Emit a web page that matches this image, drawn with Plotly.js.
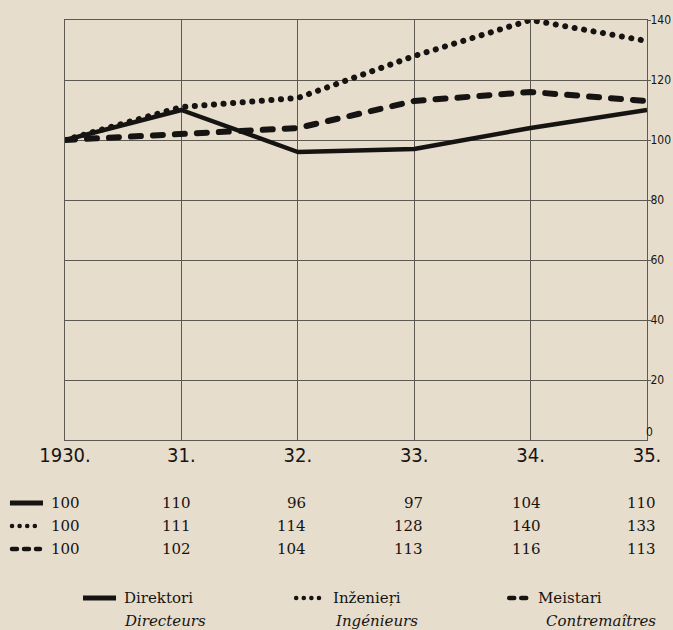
<!DOCTYPE html>
<html><head><meta charset="utf-8">
<script src="https://cdn.plot.ly/plotly-3.0.1.min.js"></script>
<style>html,body{margin:0;padding:0;background:#e6ddcc;}</style>
</head><body><div id="chart" style="width:673px;height:630px;"></div>
<script>
// ---- data ----
const years = [1930, 1931, 1932, 1933, 1934, 1935];
const yearLabels = ['1930.', '31.', '32.', '33.', '34.', '35.'];
const directori = [100, 110, 96, 97, 104, 110];
const inzenieri = [100, 111, 114, 128, 140, 133];
const meistari = [100, 102, 104, 113, 116, 113];
const namesLv = ['Direktori', 'Inženieŗi', 'Meistari'];
const namesFr = ['Directeurs', 'Ingénieurs', 'Contremaîtres'];
const yTicks = [20, 40, 60, 80, 100, 120, 140];
const yZeroTick = [0];
const yRange = [0, 140];

// ---- styles ----
const BG = '#e6ddcc';
const INK = '#161412';
const GRID = '#5e5a52';
const DOT = '0.1px,9.5px';
const DASH = '10px,12px';
const seriesData = [directori, inzenieri, meistari];
const seriesStyle = [
  {width: 4.5, dash: 'solid'},
  {width: 6, dash: DOT},
  {width: 6, dash: DASH}
];

// plot area in pixels: left 65, right 646.7, top 20, bottom 440
const PL = 65, PW = 581.7, PB = 440, PH = 420;
const px = x => (x - PL) / PW;
const py = y => (PB - y) / PH;

const traces = seriesData.map((d, i) => ({
  x: years, y: d, type: 'scatter', mode: 'lines',
  line: {color: INK, width: seriesStyle[i].width, dash: seriesStyle[i].dash},
  hoverinfo: 'skip', showlegend: false
}));
// invisible helper trace so the second (zero-label) axis is drawn
traces.push({x: [years[0]], y: [yRange[0]], yaxis: 'y2', type: 'scatter', mode: 'markers',
  marker: {opacity: 0}, hoverinfo: 'skip', showlegend: false});

const serif = '"DejaVu Serif", "Liberation Serif", serif';
const narrow = '"DejaVu Sans Condensed", "DejaVu Sans", sans-serif';
const annotations = [];
const shapes = [];
const symDash = ['solid', '0.1px,7.5px', '5px,7px'];
const symWidth = [5, 4.5, 4.5];

// table
const colRight = [82, 193, 308, 425, 543, 658];
const rowY = [503, 526, 549];
const symX = [[10, 43], [12, 38], [12, 40]];
seriesData.forEach((d, r) => {
  d.forEach((v, c) => {
    annotations.push({
      xref: 'paper', yref: 'paper', x: px(colRight[c]), y: py(rowY[r]),
      xanchor: 'right', yanchor: 'middle', showarrow: false,
      text: String(v), font: {family: serif, size: 15, color: INK}
    });
  });
  shapes.push({
    type: 'line', xref: 'paper', yref: 'paper',
    x0: px(symX[r][0]), x1: px(symX[r][1]), y0: py(rowY[r]), y1: py(rowY[r]),
    line: {color: INK, width: symWidth[r], dash: symDash[r]}
  });
});

// legend
const legSym = [[83, 116], [296, 323], [509, 530]];
const legText = [122, 331, 536];
const legTextFr = [122, 333, 544];
const legY1 = 598, legY2 = 621;
namesLv.forEach((n, i) => {
  annotations.push({
    xref: 'paper', yref: 'paper', x: px(legText[i]), y: py(legY1),
    xanchor: 'left', yanchor: 'middle', showarrow: false,
    text: n, font: {family: serif, size: 15, color: INK}
  });
  annotations.push({
    xref: 'paper', yref: 'paper', x: px(legTextFr[i]), y: py(legY2),
    xanchor: 'left', yanchor: 'middle', showarrow: false,
    text: '<i>' + namesFr[i] + '</i>', font: {family: serif, size: 15, color: INK}
  });
  shapes.push({
    type: 'line', xref: 'paper', yref: 'paper',
    x0: px(legSym[i][0]), x1: px(legSym[i][1]), y0: py(legY1), y1: py(legY1),
    line: {color: INK, width: symWidth[i], dash: symDash[i]}
  });
});

const yTickFont = {family: narrow, size: 12, color: INK};
const layout = {
  width: 673, height: 630,
  margin: {l: 65, r: 26.3, t: 20, b: 190, pad: 0},
  paper_bgcolor: BG, plot_bgcolor: BG,
  showlegend: false,
  xaxis: {
    range: [1930, 1935], tickvals: years, ticktext: yearLabels,
    showgrid: true, gridcolor: GRID, gridwidth: 1,
    showline: true, mirror: true, linecolor: GRID, linewidth: 1,
    ticks: '', zeroline: false, fixedrange: true, ticklabelstandoff: -3,
    tickfont: {family: narrow, size: 20, color: INK}
  },
  yaxis: {
    range: yRange, tickvals: yTicks, side: 'right',
    showgrid: true, gridcolor: GRID, gridwidth: 1,
    showline: true, mirror: true, linecolor: GRID, linewidth: 1,
    ticks: 'outside', ticklen: 3, tickcolor: GRID, zeroline: false, fixedrange: true,
    ticklabelstandoff: -3,
    tickfont: yTickFont
  },
  yaxis2: {
    range: yRange, tickvals: yZeroTick, side: 'right', overlaying: 'y',
    showgrid: false, showline: false, zeroline: false, fixedrange: true,
    ticks: '', ticklabelposition: 'outside top', ticklabelstandoff: -2,
    tickfont: yTickFont
  },
  annotations: annotations,
  shapes: shapes
};

Plotly.newPlot('chart', traces, layout, {staticPlot: true}).then(() => {
  document.querySelectorAll('#chart path').forEach(p => {
    const da = p.style.strokeDasharray || '';
    if (da && da !== 'none') {
      p.style.strokeLinecap = 'round';
    }
  });
  document.querySelectorAll('#chart .js-line').forEach(p => {
    p.style.strokeLinejoin = 'round';
  });
});
</script>
</body></html>
